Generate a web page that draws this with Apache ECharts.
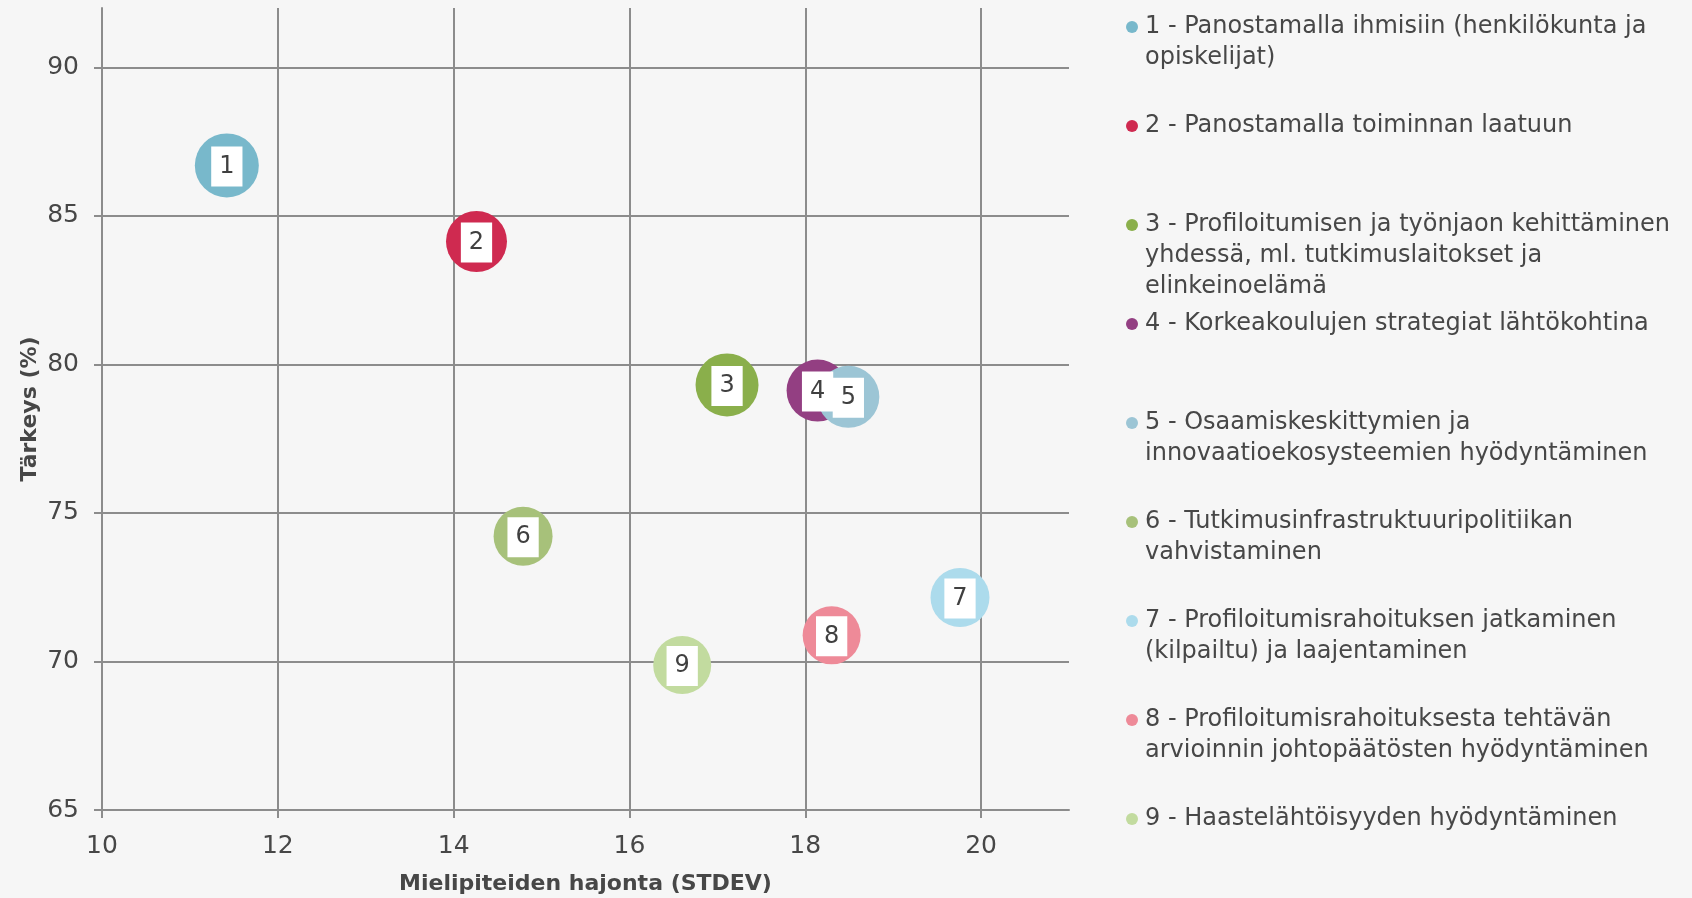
<!DOCTYPE html>
<html>
<head>
<meta charset="utf-8">
<title>Tärkeys ja hajonta</title>
<script src="https://cdn.jsdelivr.net/npm/echarts@6.0.0/dist/echarts.min.js"></script>
<style>
    html, body { margin: 0; padding: 0; background: #f6f6f6; }
    #chart { width: 1692px; height: 898px; }
</style>
</head>
<body>
<div id="chart"></div>
<script>
    "use strict";
    var ids = ["1", "2", "3", "4", "5", "6", "7", "8", "9"];
    var legendLines = [
        ["1 - Panostamalla ihmisiin (henkilökunta ja", "opiskelijat)"],
        ["2 - Panostamalla toiminnan laatuun"],
        ["3 - Profiloitumisen ja työnjaon kehittäminen", "yhdessä, ml. tutkimuslaitokset ja", "elinkeinoelämä"],
        ["4 - Korkeakoulujen strategiat lähtökohtina"],
        ["5 - Osaamiskeskittymien ja", "innovaatioekosysteemien hyödyntäminen"],
        ["6 - Tutkimusinfrastruktuuripolitiikan", "vahvistaminen"],
        ["7 - Profiloitumisrahoituksen jatkaminen", "(kilpailtu) ja laajentaminen"],
        ["8 - Profiloitumisrahoituksesta tehtävän", "arvioinnin johtopäätösten hyödyntäminen"],
        ["9 - Haastelähtöisyyden hyödyntäminen"]
    ];
    var stdev = [11.42, 14.26, 17.11, 18.14, 18.49, 14.79, 19.76, 18.30, 16.60];
    var importance = [86.70, 84.14, 79.31, 79.12, 78.91, 74.22, 72.15, 70.88, 69.88];
    var bubbleSize = [64, 61, 63, 62, 62, 59, 59, 58, 58];
    var colors = ["#78b8cb", "#cf2a50", "#8aaf4b", "#933f82", "#9cc5d5", "#a7c17a", "#acdbec", "#ee8a98", "#c2db9f"];
    var xTicks = [10, 12, 14, 16, 18, 20];
    var yTicks = [65, 70, 75, 80, 85, 90];

    var names = legendLines.map(function (lines) {
        return lines.join(" ");
    });

    var gridColor = "#8c8c8c";
    var textColor = "#474747";
    var font = "DejaVu Sans";

    var series = names.map(function (name, i) {
        return {
            name: name,
            type: "scatter",
            data: [[stdev[i], importance[i], bubbleSize[i]]],
            symbolSize: function (d) {
                return d[2];
            },
            itemStyle: { color: colors[i], opacity: 1 },
            label: {
                show: true,
                position: "inside",
                offset: [0, 1],
                formatter: function () {
                    return ids[i];
                },
                backgroundColor: "#ffffff",
                padding: [7, 8, 6, 8],
                lineHeight: 27,
                color: "#404040",
                fontSize: 24,
                fontFamily: font
            },
            emphasis: { disabled: true }
        };
    });

    var chart = echarts.init(document.getElementById("chart"));
    chart.setOption({
        backgroundColor: "#f6f6f6",
        animation: false,
        textStyle: { fontFamily: font },
        grid: { left: 102, right: 623, top: 8, bottom: 88, outerBoundsMode: "none" },
        legend: {
            orient: "vertical",
            left: 1125,
            top: 11.5,
            padding: 0,
            itemWidth: 15,
            itemHeight: 93,
            itemGap: 6,
            selectedMode: false,
            icon: "path://M0,0L0,0M1,15.5A6,6,0,1,1,13,15.5A6,6,0,1,1,1,15.5ZM15,93L15,93",
            data: names,
            formatter: function (name) {
                var lines = legendLines[names.indexOf(name)].slice();
                while (lines.length < 3) {
                    lines.push("");
                }
                return lines.join("\n");
            },
            textStyle: { fontFamily: font, fontSize: 24, lineHeight: 31, color: textColor }
        },
        xAxis: {
            type: "value",
            min: 10,
            max: 21,
            interval: 2,
            name: "Mielipiteiden hajonta (STDEV)",
            nameLocation: "middle",
            nameGap: 63,
            nameMoveOverlap: false,
            nameTextStyle: { fontFamily: font, fontSize: 22, fontWeight: "bold", color: textColor },
            axisLine: { show: true, lineStyle: { color: gridColor, width: 2 } },
            axisTick: { show: true, length: 8, customValues: xTicks, lineStyle: { color: gridColor, width: 2 } },
            axisLabel: { customValues: xTicks, margin: 24, fontSize: 25, color: textColor, fontFamily: font },
            splitLine: { show: true, lineStyle: { color: gridColor, width: 2 } }
        },
        yAxis: {
            type: "value",
            min: 65,
            max: 92,
            interval: 5,
            name: "Tärkeys (%)",
            nameLocation: "middle",
            nameGap: 61,
            nameMoveOverlap: false,
            nameTextStyle: { fontFamily: font, fontSize: 22, fontWeight: "bold", color: textColor },
            axisLine: { show: true, lineStyle: { color: gridColor, width: 2 } },
            axisTick: { show: true, length: 8, customValues: yTicks, lineStyle: { color: gridColor, width: 2 } },
            axisLabel: { customValues: yTicks, margin: 23, padding: [10, 0, 0, 0], fontSize: 25, color: textColor, fontFamily: font },
            splitLine: { show: true, lineStyle: { color: gridColor, width: 2 } }
        },
        series: series
    });
</script>
</body>
</html>
